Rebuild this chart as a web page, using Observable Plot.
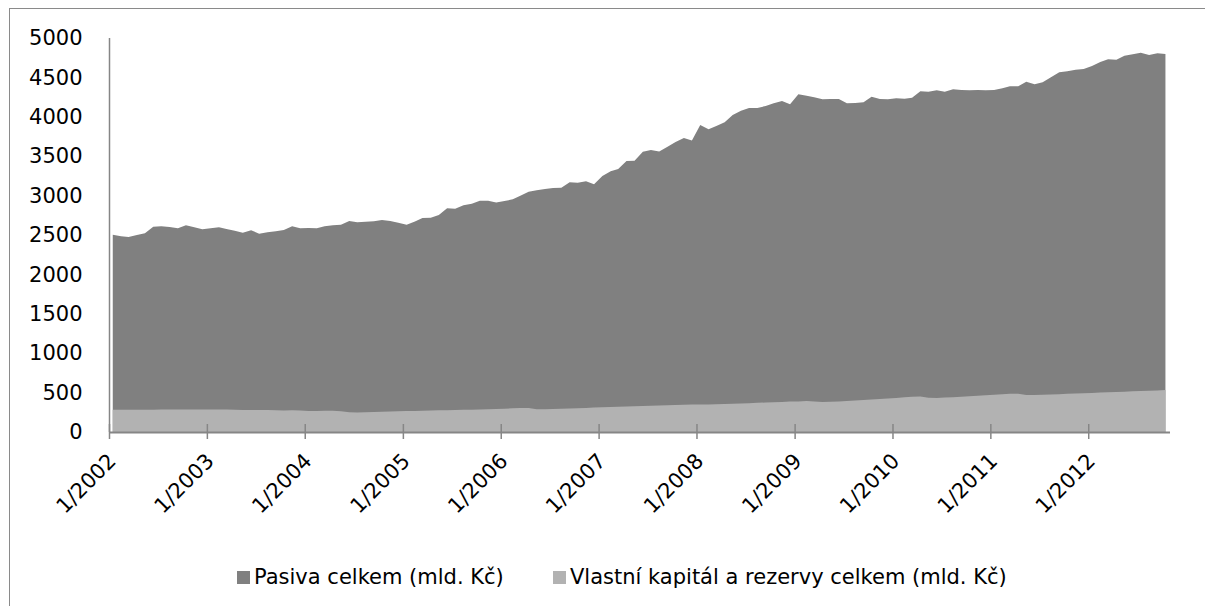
<!DOCTYPE html>
<html>
<head>
<meta charset="utf-8">
<script src="https://cdn.jsdelivr.net/npm/d3@7"></script>
<script src="https://cdn.jsdelivr.net/npm/@observablehq/plot@0.6"></script>
<style>
  html, body { margin: 0; padding: 0; background: #fff; overflow: hidden; }
  #wrap { position: relative; width: 1205px; height: 606px; overflow: hidden; }
  #frame { position: absolute; left: 9px; top: 8px; width: 1400px; height: 800px; border-left: 1.5px solid #8a8a8a; border-top: 1.5px solid #8a8a8a; }
  #chart { position: absolute; left: 0; top: 0; }
  .item { position: absolute; top: 564px; height: 26px; display: flex; align-items: center; font-family: "DejaVu Sans", sans-serif; font-size: 21px; color: #000; white-space: nowrap; }
  .sw { width: 13px; height: 13px; margin-right: 4px; }
</style>
</head>
<body>
<div id="wrap">
  <div id="frame"></div>
  <div id="chart"></div>
</div>
<script>
(function () {
// Series names
const seriesNames = ["Pasiva celkem (mld. Kč)", "Vlastní kapitál a rezervy celkem (mld. Kč)"];
const seriesColors = ["#808080", "#b2b2b2"];

// Monthly values 1/2002 – 10/2012 (mld. Kč)
const pasivaCelkem = [
  2504, 2483, 2474, 2500, 2521, 2605, 2610, 2601, 2585, 2623, 2597, 2572,
  2585, 2597, 2576, 2555, 2529, 2559, 2517, 2534, 2547, 2563, 2610, 2585,
  2589, 2585, 2610, 2623, 2631, 2678, 2661, 2669, 2674, 2690, 2678, 2656,
  2631, 2670, 2716, 2720, 2754, 2838, 2834, 2876, 2897, 2935, 2935, 2914,
  2931, 2953, 2999, 3050, 3067, 3084, 3096, 3101, 3169, 3164, 3181, 3143,
  3249, 3308, 3338, 3439, 3443, 3557, 3579, 3560, 3620, 3680, 3730, 3700,
  3896, 3841, 3883, 3930, 4023, 4078, 4112, 4112, 4137, 4171, 4200, 4158,
  4285, 4268, 4247, 4222, 4226, 4226, 4171, 4175, 4184, 4255, 4226, 4222,
  4234, 4230, 4242, 4323, 4319, 4336, 4319, 4349, 4340, 4336, 4340, 4336,
  4340, 4361, 4387, 4387, 4446, 4412, 4437, 4501, 4564, 4577, 4598, 4606,
  4645, 4695, 4730, 4725, 4776, 4793, 4814, 4784, 4806, 4797
];
const vlastniKapital = [
  282, 283, 282, 281, 282, 283, 285, 286, 287, 287, 286, 285,
  284, 285, 284, 283, 280, 278, 279, 280, 276, 274, 275, 272,
  266, 268, 270, 269, 262, 250, 248, 251, 255, 258, 261, 264,
  266, 268, 270, 272, 275, 277, 279, 281, 283, 286, 289, 292,
  296, 300, 306, 304, 288, 290, 292, 295, 298, 302, 306, 310,
  314, 318, 321, 324, 326, 329, 332, 336, 339, 342, 345, 348,
  350, 348, 352, 356, 358, 362, 366, 370, 374, 378, 382, 386,
  388, 392, 386, 380, 384, 388, 394, 400, 406, 412, 418, 424,
  432, 440, 446, 450, 436, 433, 437, 442, 448, 454, 460, 466,
  472, 478, 484, 486, 470, 469, 472, 476, 480, 484, 488, 492,
  496, 500, 504, 508, 512, 516, 520, 524, 528, 532
];
const yTickValues = [0, 500, 1000, 1500, 2000, 2500, 3000, 3500, 4000, 4500, 5000];
const tickYears = [2002, 2003, 2004, 2005, 2006, 2007, 2008, 2009, 2010, 2011, 2012];

const months = pasivaCelkem.map((_, i) => new Date(Date.UTC(2002, i, 15)));
const data = months.map((d, i) => ({date: d, total: pasivaCelkem[i], equity: vlastniKapital[i]}));
const yearTicks = tickYears.map(y => new Date(Date.UTC(y, 0, 1)));
const xStart = new Date(Date.UTC(2002, 0, 1));
const xEnd = new Date(Date.UTC(2012, 10, 1));

const FONT = "'DejaVu Sans', sans-serif";
const axisColor = "#868686";
const H = 530, plotTop = 38, plotBottom = 432;

const chart = Plot.plot({
  width: 1205,
  height: H,
  marginLeft: 109,
  marginRight: 35,
  marginTop: plotTop,
  marginBottom: H - plotBottom,
  style: {fontFamily: FONT, fontSize: "21px", color: "#000", background: "transparent"},
  x: {type: "utc", domain: [xStart, xEnd], axis: null},
  y: {domain: [0, 5000]},
  marks: [
    Plot.areaY(data, {x: "date", y1: 0, y2: "total", fill: seriesColors[0]}),
    Plot.areaY(data, {x: "date", y1: 0, y2: "equity", fill: seriesColors[1]}),
    Plot.ruleX(yearTicks, {stroke: axisColor, strokeWidth: 1.5, insetTop: (plotBottom - plotTop) - 8, insetBottom: -7}),
    Plot.ruleY([0], {stroke: axisColor, strokeWidth: 2}),
    Plot.ruleX([xStart], {stroke: axisColor, strokeWidth: 1.5}),
    Plot.axisY({ticks: yTickValues, tickSize: 0, tickPadding: 27, tickFormat: d => String(d), fontSize: 21}),
    Plot.text(yearTicks, {x: d => d, frameAnchor: "bottom", text: d => "1/" + d.getUTCFullYear(),
      rotate: -45, textAnchor: "end", lineAnchor: "middle", dx: 3, dy: 25, fontSize: 21, fill: "#000"})
  ]
});
document.getElementById("chart").appendChild(chart);

const wrap = document.getElementById("wrap");
const itemLeft = [237, 553];
seriesNames.forEach((name, i) => {
  const item = document.createElement("div");
  item.className = "item";
  item.style.left = itemLeft[i] + "px";
  const sw = document.createElement("div");
  sw.className = "sw";
  sw.style.background = seriesColors[i];
  const tx = document.createElement("span");
  tx.textContent = name;
  item.appendChild(sw);
  item.appendChild(tx);
  wrap.appendChild(item);
});
})();
</script>
</body>
</html>
